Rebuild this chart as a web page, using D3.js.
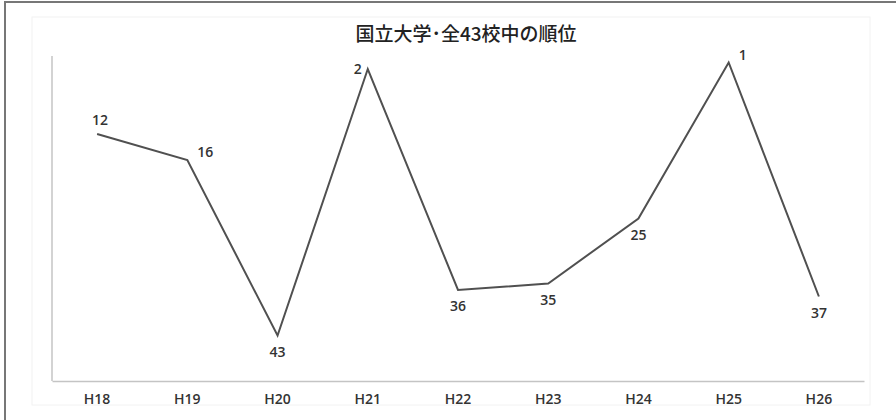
<!DOCTYPE html>
<html>
<head>
<meta charset="utf-8">
<script src="https://cdn.jsdelivr.net/npm/d3@7"></script>
<style>
  body { margin: 0; background: #fff; }
  svg { display: block; }
  text { font-family: "Open Sans", "Liberation Sans", sans-serif; fill: #333; }
</style>
</head>
<body>
<div id="chart"></div>
<script>
var title = '国立大学･全43校中の順位'
var years = ['H18', 'H19', 'H20', 'H21', 'H22', 'H23', 'H24', 'H25', 'H26']
var ranks = [12, 16, 43, 2, 36, 35, 25, 1, 37]
// where each value label sits relative to its point
var labelPos = ['above', 'right', 'below', 'left', 'below', 'below', 'below', 'right', 'below']

var width = 896, height = 420
var svg = d3.select('#chart').append('svg')
  .attr('width', width).attr('height', height)

// outer frame (only left and top edges show in the picture)
svg.append('rect')
  .attr('x', 5).attr('y', 2).attr('width', 1000).attr('height', 1000)
  .attr('fill', 'none').attr('stroke', '#777').attr('stroke-width', 2)

// faint inner plot area
svg.append('rect')
  .attr('x', 32).attr('y', 17).attr('width', 838).attr('height', 388)
  .attr('fill', 'none').attr('stroke', '#f2f2f2')

var margin = {left: 52, right: 32, top: 56, bottom: 39}
var x = d3.scaleBand().domain(years).range([margin.left, width - margin.right])
var y = d3.scaleLinear().domain([0, 50]).range([margin.top, height - margin.bottom])

svg.append('text')
  .attr('x', 466).attr('y', 41)
  .attr('text-anchor', 'middle')
  .style('font-family', '"Noto Sans CJK JP", sans-serif')
  .style('font-size', '19px').style('font-weight', 500)
  .style('fill', '#222')
  .text(title)

// axes
svg.append('line')
  .attr('x1', margin.left).attr('x2', margin.left)
  .attr('y1', y(0)).attr('y2', y(50))
  .attr('stroke', '#c4c4c4').attr('stroke-width', 1.5)

var xAxis = svg.append('g')
  .attr('transform', `translate(0,${y(50)})`)
  .call(d3.axisBottom(x).tickSize(0).tickPadding(13))
xAxis.select('.domain').attr('stroke', '#c4c4c4').attr('stroke-width', 1.5)
xAxis.selectAll('text')
  .style('font-size', '14px').style('font-weight', 600).style('fill', '#333')

var cx = d => x(d.year) + x.bandwidth() / 2
var data = years.map((year, i) => ({year, rank: ranks[i], pos: labelPos[i]}))

svg.append('path')
  .datum(data)
  .attr('d', d3.line().x(cx).y(d => y(d.rank)))
  .attr('fill', 'none').attr('stroke', '#505050').attr('stroke-width', 2)

var offsets = {
  above: [3, -9, 'middle'],
  right: [10, -3, 'start'],
  left: [-6, 5, 'end'],
  below: [0, 21, 'middle']
}

svg.selectAll('text.val').data(data).join('text')
  .attr('class', 'val')
  .attr('x', d => cx(d) + offsets[d.pos][0])
  .attr('y', d => y(d.rank) + offsets[d.pos][1])
  .attr('text-anchor', d => offsets[d.pos][2])
  .style('font-size', '14px').style('font-weight', 600)
  .text(d => d.rank)
</script>
</body>
</html>
